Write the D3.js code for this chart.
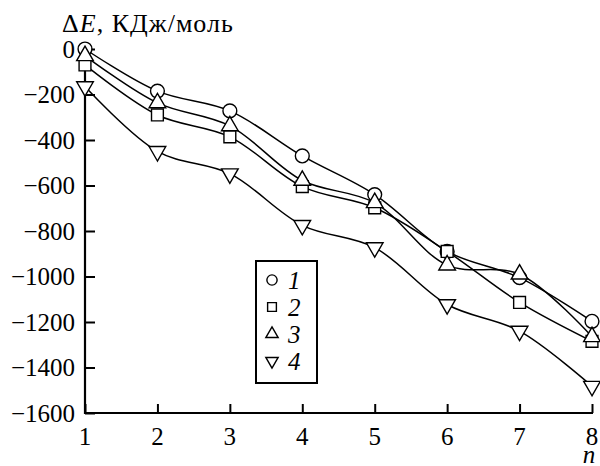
<!DOCTYPE html>
<html><head><meta charset="utf-8">
<script src="https://cdn.jsdelivr.net/npm/d3@7"></script>
<style>body{margin:0;background:#fff}svg{display:block}</style>
</head><body><svg id="c" width="600" height="466"></svg>
<script>
const nValues = [1,2,3,4,5,6,7,8];
const series1 = [0,-185,-272,-470,-640,-890,-1005,-1197];
const series2 = [-70,-290,-386,-605,-698,-890,-1114,-1285];
const series3 = [-30,-237,-338,-578,-676,-950,-990,-1265];
const series4 = [-165,-450,-548,-775,-873,-1123,-1240,-1482];
const seriesNames = ["1","2","3","4"];
const yTicks = [0,-200,-400,-600,-800,-1000,-1200,-1400,-1600];

const svg = d3.select("#c");
const x = d3.scaleLinear().domain([1,8]).range([85,592]);
const y = d3.scaleLinear().domain([-1600,0]).range([413,49]);
const fs = 25;

const allSeries = [series1,series2,series3,series4];
const symbols = [d3.symbolCircle,d3.symbolSquare,d3.symbolTriangle,d3.symbolTriangle];
const sizes = [150,140,120,120];
const rots = [0,0,0,180];

function txt(sel){ return sel.style("font-family","Liberation Serif").attr("fill","#000"); }

// axes
const gx = svg.append("g").attr("transform","translate(0,413)")
  .call(d3.axisBottom(x).tickValues(nValues).tickSize(-9).tickPadding(0).tickFormat(()=>""));
const gy = svg.append("g").attr("transform","translate(85,0)")
  .call(d3.axisLeft(y).tickValues(yTicks).tickSize(-10).tickFormat(()=>""));
[gx,gy].forEach(g=>{
  g.select(".domain").attr("stroke","#000").attr("stroke-width",2.2);
  g.selectAll(".tick line").attr("stroke","#000").attr("stroke-width",2);
});
gx.select(".domain").attr("d","M85,0H593");
gy.select(".domain").attr("d","M0,49V414");

// tick labels
txt(svg.append("g").selectAll("text").data(nValues).join("text"))
  .attr("x",d=>x(d)).attr("y",445).attr("text-anchor","middle")
  .attr("font-size",fs).text(d=>d);
txt(svg.append("g").selectAll("text").data(yTicks).join("text"))
  .attr("x",75).attr("y",d=>y(d)).attr("dy","0.34em").attr("text-anchor","end")
  .attr("font-size",fs).text(d=>d===0?"0":"\u2212"+Math.abs(d));

// title
const t = txt(svg.append("text")).attr("x",62).attr("y",32).attr("font-size",26)
  .style("letter-spacing","1px");
t.append("tspan").text("\u0394");
t.append("tspan").attr("font-style","italic").text("E");
t.append("tspan").text(", КДж/моль");
txt(svg.append("text")).attr("x",589).attr("y",463).attr("text-anchor","middle")
  .attr("font-size",fs).attr("font-style","italic").text("n");

// lines
const line = d3.line().x((d,i)=>x(nValues[i])).y(d=>y(d)).curve(d3.curveCatmullRom.alpha(0.5));
allSeries.forEach(s=>{
  svg.append("path").attr("d",line(s)).attr("fill","none").attr("stroke","#000").attr("stroke-width",1.5);
});
allSeries.forEach((s,k)=>{
  svg.append("g").selectAll("path").data(s).join("path")
    .attr("d",d3.symbol().type(symbols[k]).size(sizes[k]))
    .attr("transform",(d,i)=>`translate(${x(nValues[i])},${y(d)}) rotate(${rots[k]})`)
    .attr("fill","#fff").attr("stroke","#000").attr("stroke-width",1.4);
});

// legend
const lg = svg.append("g");
lg.append("rect").attr("x",256).attr("y",261).attr("width",61).attr("height",122)
  .attr("fill","#fff").attr("stroke","#000").attr("stroke-width",2);
const rowsY = [280,307,334,361];
seriesNames.forEach((nm,k)=>{
  lg.append("path").attr("d",d3.symbol().type(symbols[k]).size(sizes[k]*0.55))
    .attr("transform",`translate(272,${rowsY[k]}) rotate(${rots[k]})`)
    .attr("fill","#fff").attr("stroke","#000").attr("stroke-width",1.4);
  txt(lg.append("text")).attr("x",288).attr("y",rowsY[k]).attr("dy","0.34em")
    .attr("font-size",fs).attr("font-style","italic").text(nm);
});
</script></body></html>
